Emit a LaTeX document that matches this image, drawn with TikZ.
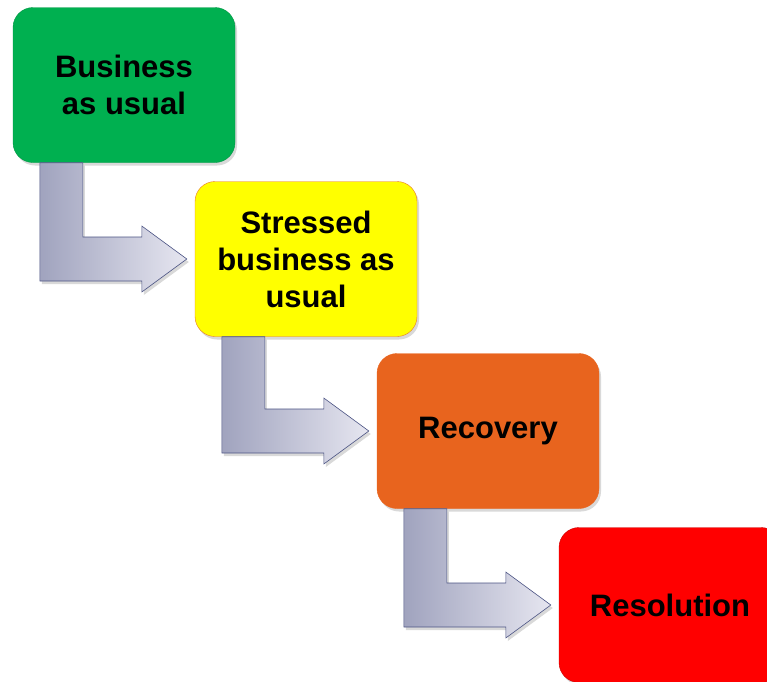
\documentclass[tikz,border=0pt]{standalone}
\usepackage{fontspec}
\setmainfont{Liberation Sans}
\usetikzlibrary{positioning, calc, shadows}
\definecolor{bizgreen}{HTML}{00B050}
\definecolor{stressyellow}{HTML}{FFFF00}
\definecolor{stressedge}{HTML}{E8782A}
\definecolor{recovorange}{HTML}{E8641E}
\definecolor{resolred}{HTML}{FF0000}
\definecolor{arrowedge}{HTML}{4B5383}
\definecolor{arrowdark}{HTML}{A0A3BE}
\definecolor{arrowlight}{HTML}{E6E6F0}
\tikzset{
    stage/.style={ % Sets the properties for each stage box
        rectangle,
        rounded corners=20pt,
        minimum width=222pt,
        minimum height=155pt,
        align=center,
        font=\bfseries\fontsize{31}{37}\selectfont,
        drop shadow={opacity=0.3, shadow xshift=2pt, shadow yshift=-3pt}
    },
    steparrow/.style={ % Bent arrow from one stage down to the next
        draw=arrowedge,
        semithick,
        left color=arrowdark,
        right color=arrowlight,
        drop shadow={opacity=0.3, shadow xshift=2pt, shadow yshift=-3pt}
    },
}

\begin{document}
\begin{tikzpicture}[x=1pt, y=-1pt]
    \useasboundingbox (0,0) rectangle (767,681);
    \node[stage, fill=bizgreen, draw=bizgreen!85!black]          (biz)    at (124,85)              {Business\\as usual};
    \node[stage, fill=stressyellow, draw=stressedge]              (stress) at ($(biz)+(182,174)$)    {Stressed\\business as\\usual};
    \node[stage, fill=recovorange, draw=recovorange]              (recov)  at ($(stress)+(182,172)$) {Recovery};
    \node[stage, fill=resolred, draw=resolred!80!black]           (resol)  at ($(recov)+(182,174)$)  {Resolution};
    % shaft leaves the bottom of one box, head points at the middle of the next
    \foreach \a/\b in {biz/stress, stress/recov, recov/resol}
        \draw[steparrow] let \p1=(\a.south west), \p2=(\b.west) in
            (\x1+27pt,\y1) -- (\x1+70pt,\y1) -- (\x1+70pt,\y2+22pt)
            -- (\x2-53pt,\y2+22pt) -- (\x2-53pt,\y2+33pt) -- (\x2-8pt,\y2)
            -- (\x2-53pt,\y2-33pt) -- (\x2-53pt,\y2-22pt) -- (\x1+27pt,\y2-22pt)
            -- cycle;
\end{tikzpicture}
\end{document}
